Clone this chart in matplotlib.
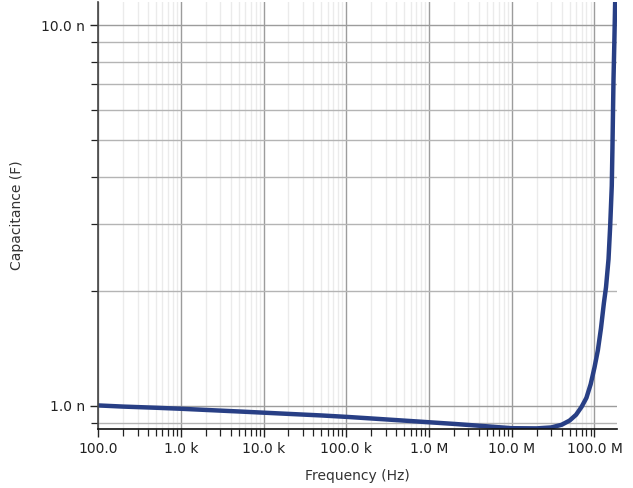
import matplotlib
matplotlib.use("Agg")
import matplotlib.pyplot as plt
from matplotlib.ticker import EngFormatter, NullFormatter, LogLocator
import numpy as np

# Frequency (Hz) and effective capacitance (nF)
freq_hz = [1e2, 2e2, 5e2, 1e3, 2e3, 5e3, 1e4, 2e4, 5e4, 1e5, 2e5, 5e5,
           1e6, 2e6, 5e6, 1e7, 2e7, 3e7, 4e7, 5e7, 6e7, 7e7, 8e7, 9e7,
           1e8, 1.1e8, 1.2e8, 1.3e8, 1.38e8, 1.48e8, 1.55e8, 1.62e8,
           1.65e8, 1.70e8, 1.74e8, 1.78e8]
cap_nf = [1.003, 0.996, 0.989, 0.983, 0.976, 0.967, 0.960, 0.953, 0.944,
          0.936, 0.927, 0.915, 0.906, 0.897, 0.884, 0.874, 0.873, 0.878,
          0.892, 0.915, 0.948, 0.995, 1.05, 1.14, 1.26, 1.40, 1.60,
          1.86, 2.05, 2.43, 2.97, 3.78, 4.73, 7.2, 9.0, 11.5]

x_limits = [100.0, 1.85e8]
y_limits_nf = [0.87, 11.5]

cap_f = np.array(cap_nf) * 1e-9

fig = plt.figure(figsize=(6.33, 4.88), dpi=100)
ax = fig.add_axes([0.155, 0.121, 0.819, 0.875])

ax.plot(freq_hz, cap_f, color="#283f85", linewidth=3.2, solid_capstyle="butt")

ax.set_xscale("log")
ax.set_yscale("log")
ax.set_xlim(*x_limits)
ax.set_ylim(y_limits_nf[0] * 1e-9, y_limits_nf[1] * 1e-9)

ax.xaxis.set_major_formatter(EngFormatter(places=1))
ax.yaxis.set_major_formatter(EngFormatter(places=1))
ax.xaxis.set_minor_formatter(NullFormatter())
ax.yaxis.set_minor_formatter(NullFormatter())
ax.xaxis.set_minor_locator(LogLocator(base=10, subs=np.arange(2, 10), numticks=20))
ax.yaxis.set_minor_locator(LogLocator(base=10, subs=np.arange(2, 10), numticks=20))

ax.xaxis.grid(True, which="major", color="#9c9c9c", linewidth=1.0)
ax.xaxis.grid(True, which="minor", color="#ebebeb", linewidth=1.0)
ax.yaxis.grid(True, which="major", color="#9c9c9c", linewidth=1.0)
ax.yaxis.grid(True, which="minor", color="#b4b4b4", linewidth=1.0)
ax.set_axisbelow(True)

for s in ["top", "right"]:
    ax.spines[s].set_visible(False)
ax.spines["left"].set_color("#444444")
ax.spines["bottom"].set_color("#111111")
ax.spines["left"].set_linewidth(1.2)
ax.spines["bottom"].set_linewidth(1.2)

ax.tick_params(axis="both", which="major", length=6, width=1, labelsize=10, colors="#222222")
ax.tick_params(axis="both", which="minor", length=5, width=0.9, colors="#222222")

ax.set_xlabel("Frequency (Hz)", fontsize=10, color="#333333", labelpad=9)
ax.set_ylabel("Capacitance (F)", fontsize=10, color="#333333", labelpad=12)

fig.savefig("out.png", dpi=100)
